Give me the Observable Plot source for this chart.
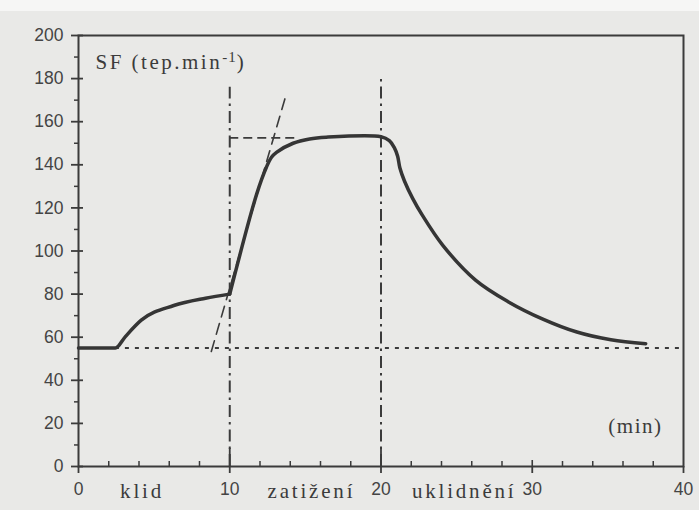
<!DOCTYPE html>
<html><head><meta charset="utf-8">
<script src="https://cdn.jsdelivr.net/npm/d3@7"></script>
<script src="https://cdn.jsdelivr.net/npm/@observablehq/plot@0.6"></script>
<style>
html,body{margin:0;padding:0;}
body{width:699px;height:510px;overflow:hidden;background:linear-gradient(#f6f6f5 0 11px,#e9e9e7 11px);}
#chart svg{display:block;}
</style></head><body><div id="chart"></div>
<script>
// heart rate curve (SF, tep.min-1) vs time (min)
const hrTime  = [0, 2.44, 3.1, 4.15, 6.3, 8.4, 10, 11.78, 12.43, 12.76, 13.09, 14.19, 15.28, 16.38, 20, 20.55, 20.88, 21.1, 21.25, 21.55, 22.1, 22.75, 24.1, 26.25, 28.4, 30.7, 32.95, 35.2, 37.5];
const hrValue = [55, 55, 60.3, 67.9, 74.7, 78.1, 80, 126.4, 139, 143.5, 145.8, 150, 152, 152.8, 153, 151.2, 148, 144, 138.5, 132.5, 124.3, 116.4, 102.5, 86.5, 76.5, 68.4, 62.4, 58.8, 57];
const loadStart = 10;
const restLevel = 55;
const phaseBounds = [10, 20];
const phaseBoundTop = [176, 180];
const tangentT = [8.78, 13.7];
const tangentV = [53.4, 171.9];
const plateauRefT = [10, 14.4];
const plateauRefV = 152.5;
const phaseNames = ["klid", "zatižení", "uklidnění"];
const phaseLabelX = [4.2, 15.4, 25.5];
const xMajorTicks = [0, 10, 20, 30, 40];
const xMinorTicks = [2, 4, 6, 8, 12, 14, 16, 18, 22, 24, 26, 28, 32, 34, 36, 38];
const xLongTicks = [10, 20];
const xCrossTicks = [30];
const yMajorTicks = [0, 20, 40, 60, 80, 100, 120, 140, 160, 180, 200];
const yMinorTicks = [10, 30, 50, 70, 90, 110, 130, 150, 170, 190];
const yLabelMain = "SF (tep.min";
const yLabelSup = "-1";
const yLabelEnd = ")";
const xUnitLabel = "(min)";

const W = 699, H = 510, mL = 78, mR = 16, mT = 35, mB = 44;
const innerW = W - mL - mR, innerH = H - mT - mB;
const ink = "#3b3b3b";
const serif = "Liberation Serif, Times New Roman, serif";

// split the curve at the onset of load (sharp corner there)
const restCurve = [], loadCurve = [];
hrTime.forEach((t, i) => {
  if (t <= loadStart) restCurve.push({t, v: hrValue[i]});
  if (t >= loadStart) loadCurve.push({t, v: hrValue[i]});
});
const tangent = tangentT.map((t, i) => ({t, v: tangentV[i]}));
const bounds = phaseBounds.map((x, i) => ({x, top: phaseBoundTop[i]}));
const fullLabel = yLabelMain + yLabelSup + yLabelEnd;
const curveStyle = {x: "t", y: "v", stroke: "#353535", strokeWidth: 3.5, strokeLinecap: "round", strokeLinejoin: "round"};

const plot = Plot.plot({
  width: W, height: H,
  marginLeft: mL, marginRight: mR, marginTop: mT, marginBottom: mB,
  style: {background: "transparent", color: ink, fontFamily: "Liberation Sans, Arial, sans-serif"},
  x: {domain: [0, 40]},
  y: {domain: [0, 200]},
  marks: [
    Plot.frame({stroke: ink, strokeWidth: 2}),
    Plot.axisY(yMajorTicks, {tickSize: 7, tickPadding: 8, fontSize: 17.5, label: null, strokeWidth: 1.8, fill: "#444"}),
    Plot.tickY(yMajorTicks, {y: d => d, insetRight: innerW - 5, stroke: ink, strokeWidth: 1.8}),
    Plot.tickY(yMinorTicks, {y: d => d, insetLeft: -4, insetRight: innerW, stroke: ink, strokeWidth: 1.5}),
    Plot.axisX(xMajorTicks, {tickSize: 7, tickPadding: 9, fontSize: 17.5, label: null, strokeWidth: 1.8, fill: "#444"}),
    Plot.tickX(xMinorTicks, {x: d => d, insetTop: innerH - 5, stroke: ink, strokeWidth: 1.5}),
    Plot.tickX(xLongTicks, {x: d => d, insetTop: innerH - 18, stroke: ink, strokeWidth: 1.8}),
    Plot.tickX(xCrossTicks, {x: d => d, insetTop: innerH - 6, stroke: ink, strokeWidth: 1.6}),
    Plot.ruleX(bounds, {x: "x", y1: 0, y2: "top", stroke: ink, strokeWidth: 2, strokeDasharray: "12,5,2.5,5"}),
    Plot.ruleY([restLevel], {x1: hrTime[1], x2: 40, stroke: ink, strokeWidth: 2, strokeDasharray: "4,6"}),
    Plot.ruleY([plateauRefV], {x1: plateauRefT[0], x2: plateauRefT[1], stroke: ink, strokeWidth: 1.8, strokeDasharray: "9,5"}),
    Plot.line(tangent, {x: "t", y: "v", stroke: ink, strokeWidth: 1.6, strokeDasharray: "11,7"}),
    Plot.line(restCurve, {...curveStyle, curve: "monotone-x"}),
    Plot.line(loadCurve, {...curveStyle, curve: "catmull-rom"}),
    Plot.text([fullLabel], {frameAnchor: "top-left", lineAnchor: "middle", dx: 17, dy: 27, textAnchor: "start", fontFamily: serif, fontSize: 21, fill: ink}),
    Plot.text([xUnitLabel], {frameAnchor: "bottom-right", lineAnchor: "middle", dx: -21, dy: -40, textAnchor: "end", fontFamily: serif, fontSize: 21, fill: ink}),
    Plot.text(phaseNames, {x: (d, i) => phaseLabelX[i], frameAnchor: "bottom", lineAnchor: "middle", dy: 25, fontFamily: serif, fontSize: 21, fill: ink})
  ]
});

const svg = d3.select(plot);
svg.selectAll("text").each(function () {
  const t = this.textContent;
  const el = d3.select(this);
  if (t === fullLabel) {
    el.text(null).attr("letter-spacing", 2.5);
    el.append("tspan").text(yLabelMain);
    el.append("tspan").attr("dy", -7).attr("font-size", 15).attr("letter-spacing", 1).text(yLabelSup);
    el.append("tspan").attr("dy", 7).text(yLabelEnd);
  } else if (phaseNames.includes(t)) {
    el.attr("letter-spacing", 2.8);
  } else if (t === xUnitLabel) {
    el.attr("letter-spacing", 1.5);
  }
});
document.getElementById("chart").appendChild(plot);
</script></body></html>
